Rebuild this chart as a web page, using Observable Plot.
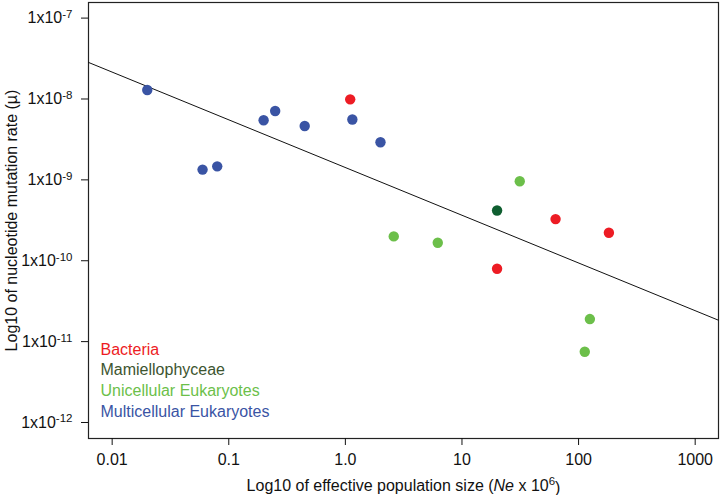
<!DOCTYPE html>
<html>
<head>
<meta charset="utf-8">
<script src="https://cdn.jsdelivr.net/npm/d3@7"></script>
<script src="https://cdn.jsdelivr.net/npm/@observablehq/plot@0.6"></script>
<style>
  html, body { margin: 0; padding: 0; background: #fff; }
  #chart svg { font-family: "Liberation Sans", Arial, Helvetica, sans-serif; }
</style>
</head>
<body>
<div id="chart"></div>
<script>
// ---- data ----
const groups = ["Bacteria", "Mamiellophyceae", "Unicellular Eukaryotes", "Multicellular Eukaryotes"];
const dotColors = ["#ed1c24", "#0f5e30", "#6cbf4a", "#3a54a4"];
const legendColors = ["#ed1c24", "#3d5530", "#6cbf4a", "#3a54a4"];

const neValues = [1.10, 63.5, 182, 20.0,
                  20.0,
                  31.3, 2.6, 6.2, 125, 113,
                  0.02, 0.0596, 0.0796, 0.199, 0.25, 0.448, 1.148, 2.0];
const muValues = [9.9e-9, 3.27e-10, 2.22e-10, 7.96e-11,
                  4.18e-10,
                  9.6e-10, 2.0e-10, 1.67e-10, 1.9e-11, 7.5e-12,
                  1.29e-8, 1.34e-9, 1.47e-9, 5.46e-9, 7.1e-9, 4.64e-9, 5.57e-9, 2.92e-9];
const groupOf = ["Bacteria", "Bacteria", "Bacteria", "Bacteria",
                 "Mamiellophyceae",
                 "Unicellular Eukaryotes", "Unicellular Eukaryotes", "Unicellular Eukaryotes", "Unicellular Eukaryotes", "Unicellular Eukaryotes",
                 "Multicellular Eukaryotes", "Multicellular Eukaryotes", "Multicellular Eukaryotes", "Multicellular Eukaryotes",
                 "Multicellular Eukaryotes", "Multicellular Eukaryotes", "Multicellular Eukaryotes", "Multicellular Eukaryotes"];

const xTicks = [0.01, 0.1, 1, 10, 100, 1000];
const xTickLabels = ["0.01", "0.1", "1.0", "10", "100", "1000"];
const yTicks = [1e-7, 1e-8, 1e-9, 1e-10, 1e-11, 1e-12];

// fitted regression line (log-log): mu = fitIntercept * Ne^fitSlope
const fitIntercept = 1.42e-9;
const fitSlope = -0.59;

const xDomain = [Math.pow(10, -2.203), Math.pow(10, 3.2)];
const yDomain = [Math.pow(10, -12.198), Math.pow(10, -6.807)];

// ---- build ----
const points = neValues.map((ne, i) => ({ne, mu: muValues[i], group: groupOf[i]}));
const fitLine = xDomain.map(ne => ({ne, mu: fitIntercept * Math.pow(ne, fitSlope)}));

const font = "Liberation Sans, Arial, Helvetica, sans-serif";
const fs = 16;

const legendMarks = groups.map((g, i) =>
  Plot.text([g], {
    text: d => d,
    frameAnchor: "bottom-left",
    textAnchor: "start",
    lineAnchor: "middle",
    dx: 12,
    dy: -89 + i * 20.8,
    fill: legendColors[i],
    fontSize: fs
  })
);

const chart = Plot.plot({
  width: 720,
  height: 495,
  marginLeft: 88,
  marginRight: 2,
  marginTop: 2,
  marginBottom: 57,
  style: {fontFamily: font, fontSize: fs + "px", color: "#111", background: "#fff"},
  x: {type: "log", domain: xDomain},
  y: {type: "log", domain: yDomain},
  color: {domain: groups, range: dotColors},
  marks: [
    Plot.frame({stroke: "#222", strokeWidth: 1.2}),
    Plot.axisX({
      ticks: xTicks,
      tickFormat: (d, i) => xTickLabels[xTicks.indexOf(d)],
      tickSize: 7,
      tickPadding: 8,
      fontSize: fs,
      label: "Log10 of effective population size (Ne x 106)",
      labelAnchor: "center",
      labelArrow: "none",
      labelOffset: 52
    }),
    Plot.axisY({
      ticks: yTicks,
      tickFormat: d => "1x10" + Math.round(Math.log10(d)),
      tickSize: 7,
      tickPadding: 9,
      fontSize: fs,
      label: "Log10 of nucleotide mutation rate (\u00b5)",
      labelAnchor: "center",
      labelArrow: "none",
      labelOffset: 83
    }),
    Plot.line(fitLine, {x: "ne", y: "mu", stroke: "#111", strokeWidth: 1}),
    Plot.dot(points, {x: "ne", y: "mu", fill: "group", r: 5.2, stroke: "none"}),
    ...legendMarks
  ]
});

document.getElementById("chart").appendChild(chart);

// superscripts in y tick labels
d3.select(chart).selectAll('[aria-label="y-axis tick label"] text').each(function () {
  const t = d3.select(this);
  const s = t.text();
  const m = s.match(/^1x10(-?\d+)$/);
  if (!m) return;
  t.text("");
  t.append("tspan").text("1x10");
  t.append("tspan").attr("dy", "-0.45em").attr("font-size", "0.72em").text(m[1]);
});

// italic Ne and superscript 6 in x axis label
d3.select(chart).selectAll('[aria-label="x-axis label"] text').each(function () {
  const t = d3.select(this);
  t.text("");
  t.append("tspan").text("Log10 of effective population size (");
  t.append("tspan").attr("font-style", "italic").text("Ne");
  t.append("tspan").text(" x 10");
  t.append("tspan").attr("dy", "-0.45em").attr("font-size", "0.72em").text("6");
  t.append("tspan").attr("dy", "0.45em").text(")");
});
</script>
</body>
</html>
